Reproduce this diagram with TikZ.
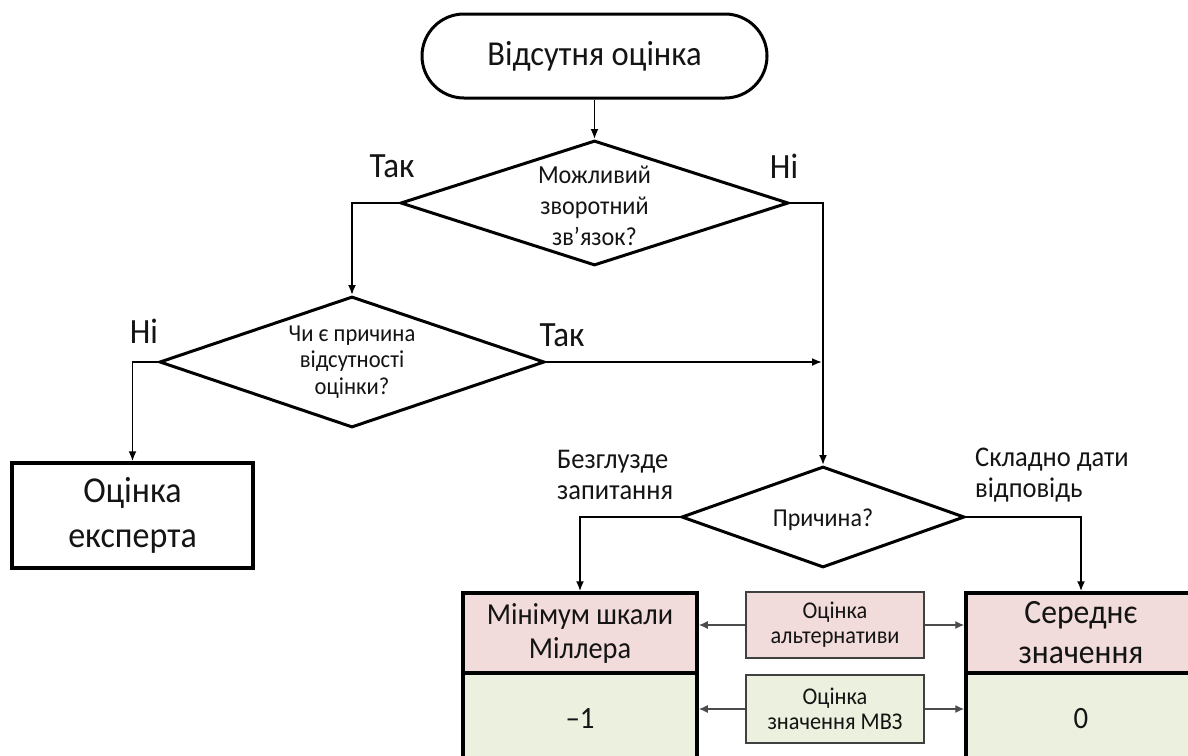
\documentclass[tikz,border=0pt]{standalone}
\usepackage{fontspec}
\setmainfont{Carlito}[FakeStretch=0.93]
\usetikzlibrary{shapes.geometric,arrows.meta,calc}
\definecolor{pinkfill}{HTML}{F2DCDB}
\definecolor{greenfill}{HTML}{EBF1DE}
\definecolor{ink}{HTML}{141414}
\newcommand{\fs}[2]{\fontsize{#1}{#2}\selectfont}
\begin{document}
\begin{tikzpicture}[x=1pt,y=-1pt,
  every node/.style={text=ink},
  decision/.style={diamond, draw=black, line width=3pt, inner sep=0pt},
  bigbox/.style={rectangle, draw=black, line width=3.5pt, inner sep=0pt, align=center},
  smallbox/.style={rectangle, draw=black!75, line width=1.2pt, inner sep=0pt, align=center},
  flow/.style={line width=1.8pt, -{Latex[length=10pt,width=8pt]}},
  side/.style={draw=black!70, line width=1.4pt, -{Latex[length=9pt,width=8pt]}},
  lbl/.style={inner sep=0pt, align=left}
]
\clip (0,0) rectangle (1188,755);
\fill[white] (0,0) rectangle (1188,755);

% start terminal
\node[draw=black, line width=3pt, rounded corners=42pt, minimum width=345pt,
      minimum height=84pt, inner sep=0pt, font=\fs{35}{40}] (start) at (594.5,56) {Відсутня оцінка};

% decisions
\node[decision, minimum width=388pt, minimum height=125pt] (d1) at (594.5,203) {};
\node[align=center, font=\fs{26}{31}] (d1t) at (594.5,206) {Можливий\\зворотний\\зв’язок?};

\node[decision, minimum width=385pt, minimum height=131pt] (d2) at (352,362) {};
\node[align=center, font=\fs{24.3}{26.5}] (d2t) at (352,362) {Чи є причина\\відсутності\\оцінки?};

\node[decision, minimum width=283pt, minimum height=101pt] (d3) at (823,517) {};
\node[font=\fs{25.8}{28}] (d3t) at (823,520) {Причина?};

% expert box
\node[bigbox, minimum width=241pt, minimum height=105pt, font=\fs{36.5}{45}] (expert) at (132.5,515.5) {Оцінка\\експерта};

% result boxes
\node[bigbox, fill=pinkfill, minimum width=234pt, minimum height=80pt, font=\fs{30.5}{34}] (lt) at (580,633) {Мінімум шкали\\Міллера};
\node[bigbox, fill=greenfill, minimum width=234pt, minimum height=92pt, font=\fs{31}{36}] (lb) at (580,719) {–1};
\node[bigbox, fill=pinkfill, minimum width=230pt, minimum height=80pt, font=\fs{34}{40}] (rt) at (1081,633) {Середнє\\значення};
\node[bigbox, fill=greenfill, minimum width=230pt, minimum height=92pt, font=\fs{31}{36}] (rb) at (1081,719) {0};

% side notes
\node[smallbox, fill=pinkfill, minimum width=178pt, minimum height=66pt, font=\fs{24}{25}] (alt) at (835,625) {Оцінка\\альтернативи};
\node[smallbox, fill=greenfill, minimum width=178pt, minimum height=68pt, font=\fs{24}{25}] (mvz) at (835,709) {Оцінка\\значення МВЗ};

% branch labels
\node[font=\fs{35.5}{40}] (l1yes) at (392,166) {Так};
\node[font=\fs{35.5}{40}] (l1no) at (784,166) {Ні};
\node[font=\fs{35.5}{40}] (l2no) at (144,331) {Ні};
\node[font=\fs{35.5}{40}] (l2yes) at (562,335) {Так};
\node[lbl, anchor=west, font=\fs{28.5}{31}] (l3a) at (557,475) {Безглузде\\запитання};
\node[lbl, anchor=west, font=\fs{28.5}{31}] (l3b) at (975,475) {Складно дати\\відповідь};

% connectors
\draw[flow] (start.south) -- (d1.north);
\draw[flow] (d1.west) -| (d2.north);
\draw[flow] (d1.east) -| (d3.north);
\coordinate (join) at (d2.east -| d3.north);
\draw[flow] (d2.east) -- ([xshift=-1pt]join);
\draw[flow] (d2.west) -| (expert.north);
\draw[flow] (d3.west) -| (lt.north);
\draw[flow] (d3.east) -| (rt.north);

\draw[side] (alt.west) -- (alt.west -| lt.east);
\draw[side] (alt.east) -- (alt.east -| rt.west);
\draw[side] (mvz.west) -- (mvz.west -| lb.east);
\draw[side] (mvz.east) -- (mvz.east -| rb.west);
\end{tikzpicture}
\end{document}
